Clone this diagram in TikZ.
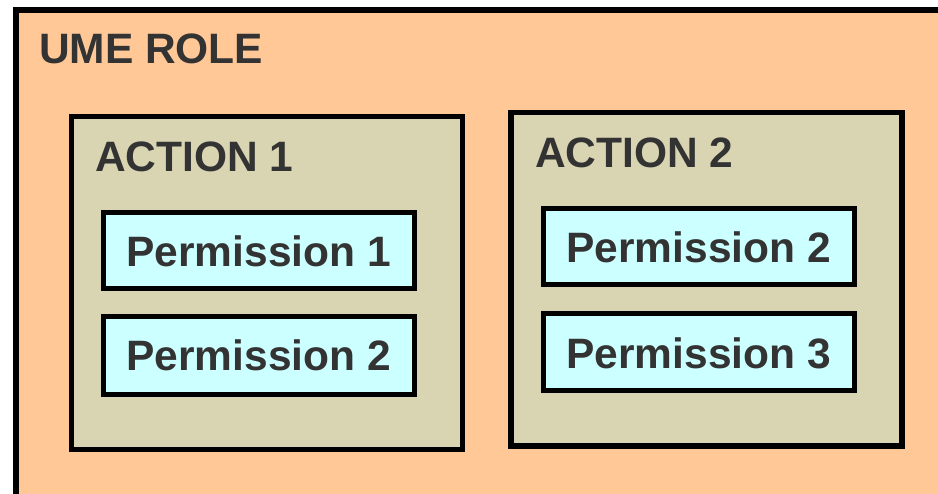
\documentclass[tikz,border=0pt]{standalone}
\usepackage{fontspec}
\setmainfont{Liberation Sans}
\definecolor{peach}{HTML}{FFC896}
\definecolor{khaki}{HTML}{D9D5B2}
\definecolor{lcyan}{HTML}{CCFFFF}
\definecolor{txt}{HTML}{333333}
\tikzset{
  rolebox/.style={draw=black, line width=6pt, fill=peach, inner sep=0pt, outer sep=0pt},
  actbox/.style={draw=black, line width=5.5pt, fill=khaki, inner sep=0pt, outer sep=0pt},
  permbox/.style={draw=black, line width=5pt, fill=lcyan, inner sep=0pt, outer sep=0pt},
  lbl/.style={text=txt, font=\fontsize{42.5}{42.5}\selectfont\bfseries, inner sep=0pt, outer sep=0pt},
}
\begin{document}
\begin{tikzpicture}[x=1pt,y=-1pt]
\useasboundingbox (0,0) rectangle (938,494);
\clip (0,0) rectangle (938,494);
\fill[white] (0,0) rectangle (938,494);
\node[rolebox, minimum width=960pt, minimum height=520pt, anchor=north west] (role) at (16,10) {};
\node[lbl, anchor=base west] (roletxt) at (39,64) {UME ROLE};
\node[actbox, minimum width=391pt, minimum height=333pt, anchor=north west] (a1) at (71.5,116.5) {};
\node[lbl, anchor=base west] (a1txt) at (95,171.5) {ACTION 1};
\node[actbox, minimum width=391pt, minimum height=333.5pt, anchor=north west] (a2) at (511,112.5) {};
\node[lbl, anchor=base west] (a2txt) at (535,168) {ACTION 2};
\node[permbox, minimum width=310.5pt, minimum height=76pt, anchor=north west] (p11) at (103.5,212.5) {};
\node[lbl, anchor=base] (p11txt) at (258.75,266.7) {Permission 1};
\node[permbox, minimum width=310.5pt, minimum height=78pt, anchor=north west] (p12) at (103.5,316.5) {};
\node[lbl, anchor=base] (p12txt) at (258.75,370.7) {Permission 2};
\node[permbox, minimum width=310.7pt, minimum height=76.2pt, anchor=north west] (p22) at (543.3,208.3) {};
\node[lbl, anchor=base] (p22txt) at (698.65,262.5) {Permission 2};
\node[permbox, minimum width=310.7pt, minimum height=76.5pt, anchor=north west] (p23) at (543.3,314) {};
\node[lbl, anchor=base] (p23txt) at (698.65,368.5) {Permission 3};
\end{tikzpicture}
\end{document}
